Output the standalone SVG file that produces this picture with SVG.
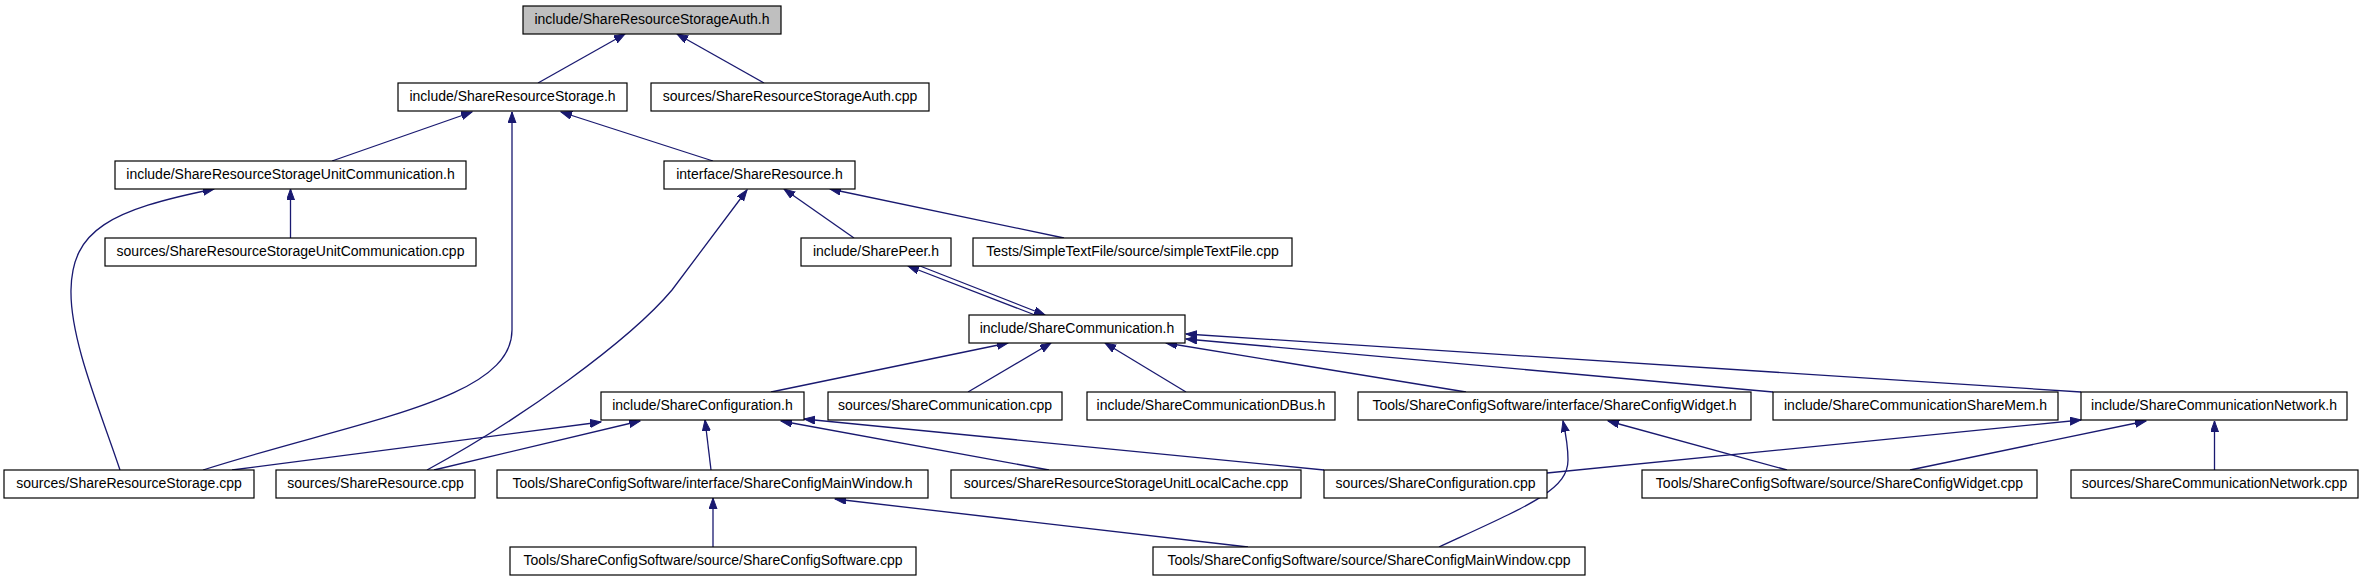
<svg xmlns="http://www.w3.org/2000/svg" width="2363" height="581" viewBox="0 0 2363 581">
<style>
.n rect{fill:#ffffff;stroke:#000000;stroke-width:1.2}
.n.root rect{fill:#bfbfbf}
.n text{font-family:"Liberation Sans",Arial,Helvetica,sans-serif;font-size:14px;fill:#000000;text-anchor:middle}
.e path{fill:none;stroke:#191970;stroke-width:1.3;marker-end:url(#ah)}
</style>
<defs>
<marker id="ah" markerUnits="userSpaceOnUse" markerWidth="12" markerHeight="10" refX="11" refY="4" orient="auto">
<path d="M0,0 L11,4 L0,8 z" fill="#191970" stroke="#191970" stroke-width="1"/>
</marker>
</defs>
<rect width="2363" height="581" fill="#ffffff"/>
<g id="connectors" class="e">
<path d="M538,83 L625,34"/>
<path d="M764,83 L677,34"/>
<path d="M332,161 L472,112"/>
<path d="M203,470 C360,420 512,400 512,330 L512,112"/>
<path d="M713,161 L561,112"/>
<path d="M290.5,238 L290.5,189"/>
<path d="M120,470 C100,410 70,340 71,290 C72,230 110,210 214,189"/>
<path d="M427,470 C520,420 630,340 672,290 L747,190"/>
<path d="M854,238 L784,189"/>
<path d="M1064,238 L830,189"/>
<path d="M1035,315 L908,266"/>
<path d="M920,266 L1045,315"/>
<path d="M771,392 L1008,343"/>
<path d="M968,392 L1051,343"/>
<path d="M1186,392 L1105,343"/>
<path d="M1466,392 L1166,343"/>
<path d="M1773,392 L1186,339"/>
<path d="M2081,392 L1186,334"/>
<path d="M232,470 L601,422"/>
<path d="M434,470 L640,421"/>
<path d="M711,470 L705,420"/>
<path d="M1049,470 L781,421"/>
<path d="M1324,470 L804,419"/>
<path d="M713,547 L713,498"/>
<path d="M1248,547 L835,499"/>
<path d="M1439,547 C1530,505 1568,490 1568,460 C1568,445 1566,435 1563,421"/>
<path d="M1787,470 L1608,421"/>
<path d="M1547,473 L2081,420"/>
<path d="M1910,470 L2146,421"/>
<path d="M2214.5,470 L2214.5,421"/>
</g>
<g id="n0" class="n root"><rect x="523" y="6" width="258" height="28"/><text x="652" y="24">include/ShareResourceStorageAuth.h</text></g>
<g id="n1" class="n"><rect x="398" y="83" width="229" height="28"/><text x="512.5" y="101">include/ShareResourceStorage.h</text></g>
<g id="n2" class="n"><rect x="651" y="83" width="278" height="28"/><text x="790" y="101">sources/ShareResourceStorageAuth.cpp</text></g>
<g id="n3" class="n"><rect x="115" y="161" width="351" height="28"/><text x="290.5" y="179">include/ShareResourceStorageUnitCommunication.h</text></g>
<g id="n4" class="n"><rect x="664" y="161" width="191" height="28"/><text x="759.5" y="179">interface/ShareResource.h</text></g>
<g id="n5" class="n"><rect x="105" y="238" width="371" height="28"/><text x="290.5" y="256">sources/ShareResourceStorageUnitCommunication.cpp</text></g>
<g id="n6" class="n"><rect x="801" y="238" width="150" height="28"/><text x="876" y="256">include/SharePeer.h</text></g>
<g id="n7" class="n"><rect x="973" y="238" width="319" height="28"/><text x="1132.5" y="256">Tests/SimpleTextFile/source/simpleTextFile.cpp</text></g>
<g id="n8" class="n"><rect x="969" y="315" width="216" height="28"/><text x="1077" y="333">include/ShareCommunication.h</text></g>
<g id="n9" class="n"><rect x="601" y="392" width="203" height="28"/><text x="702.5" y="410">include/ShareConfiguration.h</text></g>
<g id="n10" class="n"><rect x="828" y="392" width="234" height="28"/><text x="945" y="410">sources/ShareCommunication.cpp</text></g>
<g id="n11" class="n"><rect x="1087" y="392" width="248" height="28"/><text x="1211" y="410">include/ShareCommunicationDBus.h</text></g>
<g id="n12" class="n"><rect x="1358" y="392" width="393" height="28"/><text x="1554.5" y="410">Tools/ShareConfigSoftware/interface/ShareConfigWidget.h</text></g>
<g id="n13" class="n"><rect x="1773" y="392" width="285" height="28"/><text x="1915.5" y="410">include/ShareCommunicationShareMem.h</text></g>
<g id="n14" class="n"><rect x="2081" y="392" width="266" height="28"/><text x="2214" y="410">include/ShareCommunicationNetwork.h</text></g>
<g id="n15" class="n"><rect x="4" y="470" width="250" height="28"/><text x="129" y="488">sources/ShareResourceStorage.cpp</text></g>
<g id="n16" class="n"><rect x="276" y="470" width="199" height="28"/><text x="375.5" y="488">sources/ShareResource.cpp</text></g>
<g id="n17" class="n"><rect x="497" y="470" width="431" height="28"/><text x="712.5" y="488">Tools/ShareConfigSoftware/interface/ShareConfigMainWindow.h</text></g>
<g id="n18" class="n"><rect x="951" y="470" width="350" height="28"/><text x="1126" y="488">sources/ShareResourceStorageUnitLocalCache.cpp</text></g>
<g id="n19" class="n"><rect x="1324" y="470" width="223" height="28"/><text x="1435.5" y="488">sources/ShareConfiguration.cpp</text></g>
<g id="n20" class="n"><rect x="1642" y="470" width="395" height="28"/><text x="1839.5" y="488">Tools/ShareConfigSoftware/source/ShareConfigWidget.cpp</text></g>
<g id="n21" class="n"><rect x="2071" y="470" width="287" height="28"/><text x="2214.5" y="488">sources/ShareCommunicationNetwork.cpp</text></g>
<g id="n22" class="n"><rect x="510" y="547" width="406" height="28"/><text x="713" y="565">Tools/ShareConfigSoftware/source/ShareConfigSoftware.cpp</text></g>
<g id="n23" class="n"><rect x="1153" y="547" width="432" height="28"/><text x="1369" y="565">Tools/ShareConfigSoftware/source/ShareConfigMainWindow.cpp</text></g>
</svg>
